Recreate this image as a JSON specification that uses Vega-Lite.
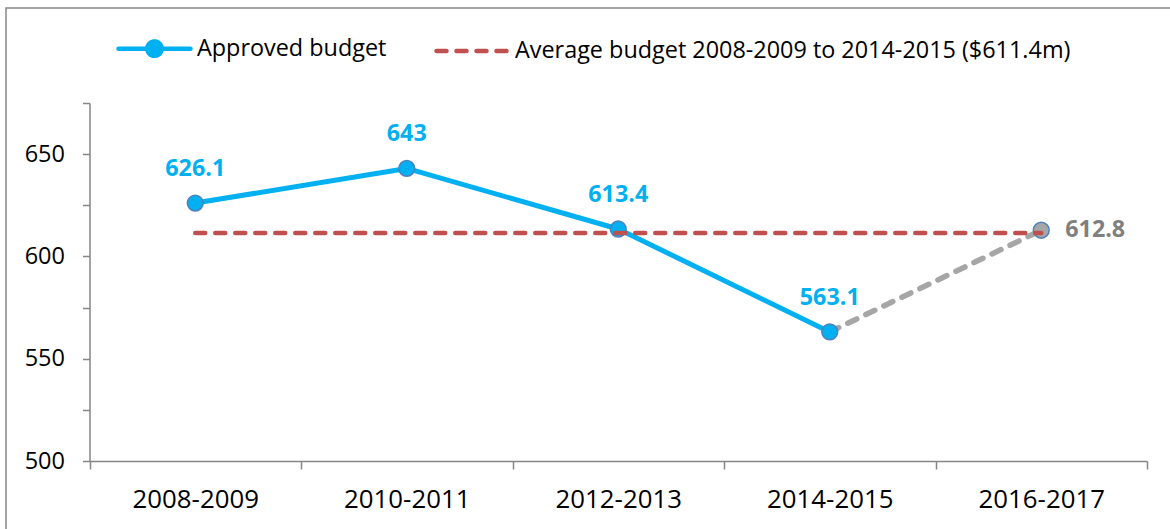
{
  "$schema": "https://vega.github.io/schema/vega-lite/v6.json",
  "width": 1164,
  "height": 521,
  "autosize": {"type": "none"},
  "padding": {"left": 6, "top": 8, "right": 0, "bottom": 0},
  "background": "white",
  "config": {
    "view": {"stroke": "#868686", "strokeWidth": 1.5, "strokeDash": [1164, 1685, 521]},
    "font": "Open Sans"
  },
  "data": {
    "values": [
      {"period": "2008-2009", "budget": 626.1, "average": 611.4, "status": "approved"},
      {"period": "2010-2011", "budget": 643, "average": 611.4, "status": "approved"},
      {"period": "2012-2013", "budget": 613.4, "average": 611.4, "status": "approved"},
      {"period": "2014-2015", "budget": 563.1, "average": 611.4, "status": "approved"},
      {"period": "2016-2017", "budget": 612.8, "average": 611.4, "status": "proposed"}
    ]
  },
  "encoding": {
    "x": {
      "field": "period",
      "type": "nominal",
      "sort": null,
      "scale": {"type": "band", "range": [83.5, 1141], "paddingInner": 0, "paddingOuter": 0},
      "axis": {
        "title": null,
        "orient": "bottom",
        "offset": -68,
        "tickBand": "extent",
        "domainColor": "#868686",
        "domainWidth": 1.5,
        "tickColor": "#868686",
        "tickWidth": 1.5,
        "tickSize": 8,
        "labelFont": "Open Sans",
        "labelFontSize": 25.8,
        "labelColor": "#000000",
        "labelPadding": 18,
        "labelAngle": 0,
        "grid": false
      }
    },
    "y": {
      "field": "budget",
      "type": "quantitative",
      "scale": {"domain": [500, 675], "range": [453, 95], "nice": false, "zero": false},
      "axis": {
        "title": null,
        "offset": -83.5,
        "values": [500, 525, 550, 575, 600, 625, 650, 675],
        "labelExpr": "datum.value % 50 === 0 ? datum.label : ''",
        "tickSize": 7,
        "domainColor": "#868686",
        "domainWidth": 1.5,
        "tickColor": "#868686",
        "tickWidth": 1.5,
        "labelFont": "Open Sans",
        "labelFontSize": 23.5,
        "labelColor": "#000000",
        "labelPadding": 18,
        "grid": false
      }
    }
  },
  "layer": [
    {
      "transform": [{"filter": "datum.status === 'approved'"}],
      "mark": {"type": "line", "strokeWidth": 5, "strokeCap": "round", "strokeJoin": "round"},
      "encoding": {
        "color": {
          "datum": "Approved budget",
          "scale": {
            "domain": ["Approved budget", "Average budget 2008-2009 to 2014-2015 ($611.4m)"],
            "range": ["#00B0F0", "#C0504D"]
          },
          "legend": {
            "title": null,
            "orient": "none",
            "legendX": 110,
            "legendY": 2,
            "direction": "horizontal",
            "symbolType": "stroke",
            "symbolSize": 5184,
            "symbolStrokeWidth": 4.5,
            "labelFont": "Open Sans",
            "labelFontSize": 23.4,
            "labelColor": "#000000",
            "labelOffset": 4,
            "labelLimit": 900,
            "columnPadding": 40,
            "encode": {
              "symbols": {
                "update": {
                  "shape": {"signal": "datum.value === 'Approved budget' ? 'M-1,0H1M-0.2,0A0.2,0.2 0 1,0 0.2,0A0.2,0.2 0 1,0 -0.2,0Z' : 'M-1,0H1'"},
                  "fill": {"signal": "datum.value === 'Approved budget' ? '#00B0F0' : 'transparent'"},
                  "strokeDash": {"signal": "datum.value === 'Approved budget' ? [1, 0] : [10, 10]"},
                  "strokeCap": {"value": "round"},
                  "opacity": {"value": 1}
                }
              }
            }
          }
        }
      }
    },
    {
      "transform": [{"filter": {"field": "period", "oneOf": ["2014-2015", "2016-2017"]}}],
      "mark": {"type": "line", "color": "#A6A6A6", "strokeWidth": 5.5, "strokeDash": [10, 10], "strokeCap": "round"},
      "encoding": {}
    },
    {
      "mark": {"type": "circle", "size": 250, "stroke": "#4F81BD", "strokeWidth": 1.5, "opacity": 1},
      "encoding": {
        "fill": {
          "condition": {"test": "datum.status === 'proposed'", "value": "#A6A6A6"},
          "value": "#00B0F0"
        }
      }
    },
    {
      "mark": {"type": "line", "strokeWidth": 4.5, "strokeDash": [10, 10], "strokeCap": "round"},
      "encoding": {
        "y": {"field": "average", "type": "quantitative"},
        "color": {"datum": "Average budget 2008-2009 to 2014-2015 ($611.4m)"}
      }
    },
    {
      "transform": [{"filter": "datum.status === 'approved'"}],
      "mark": {"type": "text", "font": "Open Sans", "fontSize": 23.3, "fontWeight": "bold", "color": "#00B0F0", "dy": -27, "baseline": "alphabetic", "align": "center"},
      "encoding": {"text": {"field": "budget", "type": "quantitative"}}
    },
    {
      "transform": [{"filter": "datum.status === 'proposed'"}],
      "mark": {"type": "text", "font": "Open Sans", "fontSize": 23.3, "fontWeight": "bold", "color": "#7F7F7F", "dx": 24, "baseline": "middle", "align": "left"},
      "encoding": {"text": {"field": "budget", "type": "quantitative"}}
    }
  ]
}
